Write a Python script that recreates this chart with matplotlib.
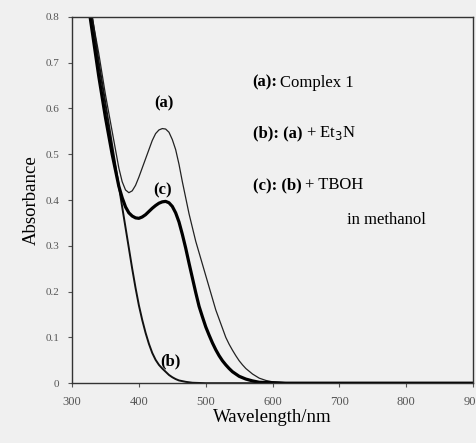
import matplotlib
matplotlib.use("Agg")
import matplotlib.pyplot as plt

plt.rcParams["font.family"] = ["Liberation Serif", "DejaVu Serif"]

# curve (a): complex 1
wl_a = [320, 325, 330, 335, 340, 345, 350, 355, 360, 365, 370, 375, 380, 385, 390, 395,
        400, 405, 410, 415, 420, 425, 430, 435, 440, 445, 450, 455, 460, 465, 470, 475,
        480, 485, 490, 495, 500, 505, 510, 515, 520, 525, 530, 535, 540, 545, 550, 555,
        560, 570, 580, 590, 600, 620, 650, 900]
abs_a = [0.88, 0.84, 0.80, 0.76, 0.72, 0.675, 0.63, 0.59, 0.55, 0.51, 0.47, 0.44, 0.422,
         0.416, 0.42, 0.432, 0.45, 0.47, 0.49, 0.51, 0.53, 0.545, 0.553, 0.556, 0.555,
         0.548, 0.532, 0.51, 0.478, 0.44, 0.405, 0.37, 0.34, 0.31, 0.285, 0.26, 0.235,
         0.21, 0.185, 0.16, 0.14, 0.12, 0.10, 0.085, 0.072, 0.06, 0.049, 0.04, 0.032,
         0.02, 0.011, 0.006, 0.003, 0.001, 0.0, 0.0]

# curve (b): (a) + Et3N
wl_b = [320, 325, 330, 335, 340, 345, 350, 355, 360, 365, 370, 375, 380, 385, 390, 395,
        400, 405, 410, 415, 420, 425, 430, 435, 440, 445, 450, 455, 460, 470, 480, 500, 900]
abs_b = [0.90, 0.85, 0.80, 0.75, 0.70, 0.655, 0.61, 0.565, 0.52, 0.475, 0.43, 0.385,
         0.34, 0.295, 0.25, 0.208, 0.17, 0.138, 0.11, 0.086, 0.066, 0.051, 0.04, 0.032,
         0.025, 0.018, 0.013, 0.009, 0.006, 0.003, 0.001, 0.0, 0.0]

# curve (c): (b) + TBOH
wl_c = [320, 325, 330, 335, 340, 345, 350, 355, 360, 365, 370, 375, 380, 385, 390, 395,
        400, 405, 410, 415, 420, 425, 430, 435, 440, 445, 450, 455, 460, 465, 470, 475,
        480, 485, 490, 495, 500, 505, 510, 515, 520, 525, 530, 535, 540, 550, 560, 570,
        580, 600, 620, 900]
abs_c = [0.87, 0.82, 0.77, 0.72, 0.67, 0.625, 0.58, 0.54, 0.50, 0.465, 0.43, 0.405,
         0.385, 0.372, 0.365, 0.361, 0.36, 0.363, 0.368, 0.375, 0.382, 0.388, 0.393,
         0.396, 0.397, 0.394, 0.386, 0.372, 0.352, 0.325, 0.295, 0.262, 0.23, 0.198,
         0.168, 0.145, 0.123, 0.105, 0.088, 0.073, 0.06, 0.049, 0.04, 0.032, 0.025,
         0.015, 0.009, 0.005, 0.002, 0.001, 0.0, 0.0]

x_ticks = [300, 400, 500, 600, 700, 800, 900]
y_ticks = [0, 0.1, 0.2, 0.3, 0.4, 0.5, 0.6, 0.7, 0.8]
y_ticklabels = ["0", "0.1", "0.2", "0.3", "0.4", "0.5", "0.6", "0.7", "0.8"]

fig = plt.figure(figsize=(4.77, 4.43), dpi=100, facecolor="#f0f0f0")
ax = fig.add_axes([0.151, 0.135, 0.841, 0.827])
ax.set_facecolor("#f0f0f0")

ax.plot(wl_a, abs_a, color="#222222", lw=0.9)
ax.plot(wl_b, abs_b, color="#111111", lw=1.4)
ax.plot(wl_c, abs_c, color="#000000", lw=2.3)

ax.set_xlim(300, 900)
ax.set_ylim(0, 0.8)
ax.set_xticks(x_ticks)
ax.set_yticks(y_ticks)
ax.set_yticklabels(y_ticklabels)
ax.tick_params(axis="y", labelsize=8, length=3, width=0.8, colors="#555555", pad=6)
ax.tick_params(axis="x", labelsize=9, length=3, width=0.8, colors="#555555", pad=6)
for s in ax.spines.values():
    s.set_linewidth(1.0)
    s.set_color("#333333")

ax.set_xlabel("Wavelength/nm", fontsize=13.5, labelpad=1)
ax.set_ylabel("Absorbance", fontsize=13.5, labelpad=4)

# curve labels
ax.text(438, 0.61, "(a)", fontsize=12, fontweight="bold", ha="center", va="center")
ax.text(436, 0.422, "(c)", fontsize=12, fontweight="bold", ha="center", va="center")
ax.text(447, 0.048, "(b)", fontsize=12, fontweight="bold", ha="center", va="center")

# legend text: bold prefix followed by plain text
legend_rows = [("(a):", "Complex 1", 0.656, 1.5),
               ("(b): (a)", "+ Et$_3$N", 0.546, 3),
               ("(c): (b)", "+ TBOH", 0.433, 3)]
for bold, rest, yv, gap in legend_rows:
    t = ax.text(570, yv, bold, fontsize=12, fontweight="bold", va="center")
    ax.annotate(rest, xy=(1, 0.5), xycoords=t, xytext=(gap, 0),
                textcoords="offset points", fontsize=12, va="center")
ax.text(712, 0.356, "in methanol", fontsize=12, va="center")

fig.savefig("out.png", dpi=100, facecolor=fig.get_facecolor())
